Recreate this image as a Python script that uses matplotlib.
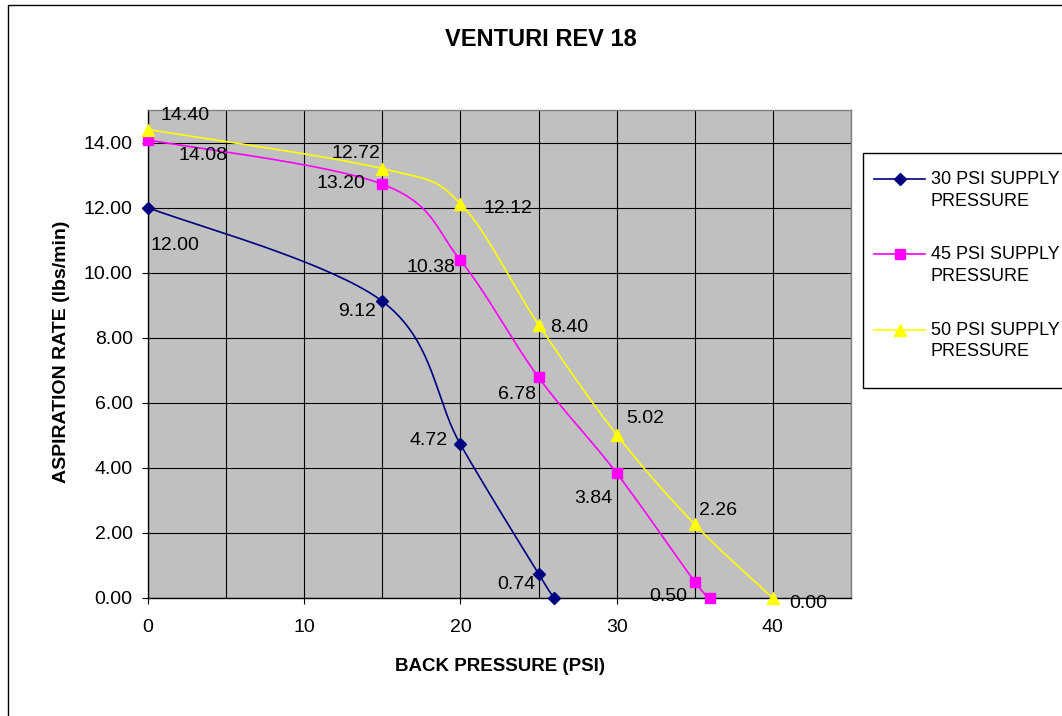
import numpy as np
import matplotlib
matplotlib.use("Agg")
import matplotlib.pyplot as plt
from matplotlib.ticker import MultipleLocator, FormatStrFormatter
from matplotlib.lines import Line2D
from matplotlib.patches import Rectangle
from matplotlib.legend_handler import HandlerLine2D

plt.rcParams['font.family'] = ['Liberation Sans', 'DejaVu Sans']

# ---------------- data ----------------
title = "VENTURI REV 18"
x_label = "BACK PRESSURE (PSI)"
y_label = "ASPIRATION RATE (lbs/min)"

series_names = ["30 PSI SUPPLY\nPRESSURE", "45 PSI SUPPLY\nPRESSURE", "50 PSI SUPPLY\nPRESSURE"]

x_30 = [0, 15, 20, 25, 26]
y_30 = [12.00, 9.12, 4.72, 0.74, 0.00]

x_45 = [0, 15, 20, 25, 30, 35, 36]
y_45 = [14.08, 12.72, 10.38, 6.78, 3.84, 0.50, 0.00]

x_50 = [0, 15, 20, 25, 30, 35, 40]
y_50 = [14.40, 13.20, 12.12, 8.40, 5.02, 2.26, 0.00]

x_ticks = [0, 10, 20, 30, 40]

# ---------------- styling / layout ----------------
colors = ["#000080", "#FF00FF", "#FFFF00"]
markers = ["D", "s", "^"]
msizes = [6.5, 7, 8]

# data-label offsets in pixels (dx, dy up); None = no label
label_offsets = [
    [(27, -38), (-25, -10), (-32, 4), (-22, -11), None],
    [(55, -16), (-26, 31), (-30, -7), (-22, -17), (-23, -25), (-27, -15), None],
    [(37, 14), (-41, -15), (47, -5), (31, -3), (29, 16), (23, 14), (35, -5)],
]


def smooth(xs, ys, n=40):
    """Excel-like smoothed line (Bezier through points, Catmull-Rom controls)."""
    p = np.column_stack([xs, ys]).astype(float)
    ext = np.vstack([p[0], p, p[-1]])
    out = []
    t = np.linspace(0, 1, n)[:, None]
    for i in range(len(p) - 1):
        p0, p1, p2, p3 = ext[i], ext[i + 1], ext[i + 2], ext[i + 3]
        c1 = p1 + (p2 - p0) / 6.0
        c2 = p2 - (p3 - p1) / 6.0
        seg = ((1 - t) ** 3) * p1 + 3 * ((1 - t) ** 2) * t * c1 + 3 * (1 - t) * t ** 2 * c2 + t ** 3 * p2
        out.append(seg if i == 0 else seg[1:])
    s = np.vstack(out)
    return s[:, 0], s[:, 1]


class ShiftedHandler(HandlerLine2D):
    """Legend handle aligned with the first line of a two-line label."""
    def __init__(self, shift, **kw):
        super().__init__(**kw)
        self.shift = shift

    def create_artists(self, legend, orig_handle, xdescent, ydescent, width, height, fontsize, trans):
        arts = super().create_artists(legend, orig_handle, xdescent, ydescent, width, height, fontsize, trans)
        for a in arts:
            a.set_ydata(np.asarray(a.get_ydata(), dtype=float) + self.shift)
        return arts


W, H = 1062, 716
fig = plt.figure(figsize=(W / 100, H / 100), dpi=100)
fig.patch.set_facecolor("white")

# outer chart frame (cut off on right and bottom)
fig.patches.append(Rectangle((8 / W, -0.05), 1.2, 1.05 - 5 / H, transform=fig.transFigure,
                             fill=False, edgecolor="black", linewidth=1.0))

L, R = 148 / W, 851 / W
B, T = (H - 598) / H, (H - 110) / H
ax = fig.add_axes([L, B, R - L, T - B])
ax.set_facecolor("#C0C0C0")
ax.set_xlim(0, 45)
ax.set_ylim(0, 15)

ax.xaxis.set_major_locator(plt.FixedLocator(x_ticks))
ax.xaxis.set_minor_locator(MultipleLocator(5))
ax.yaxis.set_major_locator(MultipleLocator(2))
ax.yaxis.set_major_formatter(FormatStrFormatter("%.2f"))
ax.grid(True, which="both", color="black", linewidth=0.8)
ax.set_axisbelow(True)
ax.tick_params(which="major", direction="out", length=4, width=0.8, labelsize=14, colors="black")
ax.tick_params(axis="x", which="major", pad=11)
ax.tick_params(axis="y", which="major", pad=7)
ax.tick_params(which="minor", length=0)
for side in ["top", "right"]:
    ax.spines[side].set_color("#808080")
    ax.spines[side].set_linewidth(1.0)
for side in ["left", "bottom"]:
    ax.spines[side].set_color("black")
    ax.spines[side].set_linewidth(1.0)

all_x = [x_30, x_45, x_50]
all_y = [y_30, y_45, y_50]
handles = []
for xs, ys, c, m, ms, offs, name in zip(all_x, all_y, colors, markers, msizes, label_offsets, series_names):
    sx, sy = smooth(xs, ys)
    ax.plot(sx, sy, color=c, linewidth=1.2, clip_on=False, zorder=3)
    ax.plot(xs, ys, linestyle="none", marker=m, markersize=ms, color=c,
            markeredgecolor=c, clip_on=False, zorder=4)
    for xv, yv, off in zip(xs, ys, offs):
        if off is None:
            continue
        ax.annotate(f"{yv:.2f}", (xv, yv), xytext=off, textcoords="offset pixels",
                    ha="center", va="center", fontsize=14, color="black",
                    annotation_clip=False, zorder=5)
    handles.append(Line2D([], [], color=c, linewidth=1.2, marker=m, markersize=ms,
                          markeredgecolor=c, label=name))

fig.text(541 / W, 1 - 40 / H, title, ha="center", va="center", fontsize=17, fontweight="bold")
ax.set_xlabel(x_label, fontsize=13.5, fontweight="bold")
ax.xaxis.set_label_coords((500 - 148) / 703, (598 - 658) / 488)
ax.set_ylabel(y_label, fontsize=14, fontweight="bold")
ax.yaxis.set_label_coords((70 - 148) / 703, (598 - 352) / 488)

# legend frame (extends past the right edge, as in the original)
fig.patches.append(Rectangle((863 / W, 1 - 388 / H), 0.3, (388 - 153) / H, transform=fig.transFigure,
                             facecolor="white", edgecolor="black", linewidth=1.0, zorder=1))
leg = fig.legend(handles=handles, loc="upper left", bbox_to_anchor=(874 / W, 1 - 171 / H),
                 fontsize=13, frameon=False,
                 handlelength=2.85, handletextpad=0.3, labelspacing=2.03,
                 borderpad=0, borderaxespad=0,
                 handler_map={Line2D: ShiftedHandler(8.3)})
for t in leg.get_texts():
    t.set_linespacing(1.36)
leg.set_zorder(2)

fig.savefig("out.png", dpi=100)
